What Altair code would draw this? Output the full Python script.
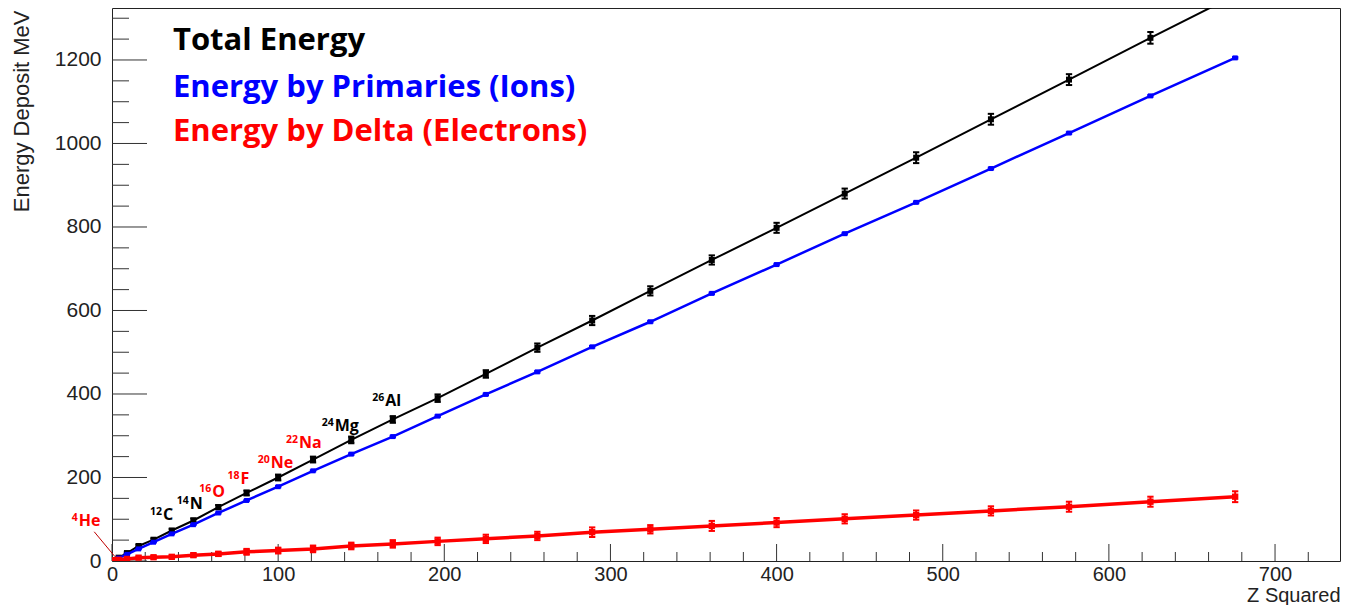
import altair as alt
import pandas as pd

# ---------------- data ----------------
z_squared = [1, 4, 9, 16, 25, 36, 49, 64, 81, 100, 121, 144, 169, 196, 225,
             256, 289, 324, 361, 400, 441, 484, 529, 576, 625, 676]

total_energy = [2, 8, 19, 36, 51, 73, 97, 129, 163, 200, 243, 290, 339, 390, 448,
                511, 576, 647, 721, 798, 880, 966, 1058, 1153, 1253, 1355]
total_err = [1, 2, 2, 3, 3, 4, 5, 5, 6, 7, 7, 8, 8, 9, 9,
             10, 11, 11, 11, 12, 12, 13, 13, 13, 14, 14]

primary_energy = [2, 7, 16, 29, 45, 65, 87, 115, 145, 178, 216, 256, 298, 347, 399,
                  453, 513, 573, 641, 710, 784, 859, 940, 1025, 1114, 1205]
primary_err = [0.5, 0.5, 1, 1, 1, 1, 1, 1.5, 1.5, 1.5, 1.5, 2, 2, 2, 2,
               2, 2, 2, 2, 2, 2, 2, 2, 2, 2, 2]

delta_energy = [2, 3, 5, 8, 9, 10, 14, 17, 22, 25, 29, 36, 41, 47, 53,
                60, 69, 76, 84, 92, 101, 110, 120, 130, 142, 154]
delta_err = [0.5, 1, 2, 2.5, 3, 3.5, 4, 5, 7, 7, 8, 8, 9, 9, 10,
             10, 11.5, 10, 12, 11, 11, 11, 11, 12, 12, 13]

legend_labels = ["Total Energy", "Energy by Primaries (Ions)", "Energy by Delta (Electrons)"]
legend_colors = ["#000000", "#0000ff", "#ff0000"]
legend_x = [36.7, 36.7, 36.7]
legend_y = [1224, 1111, 1007]

iso_mass = ["4", "12", "14", "16", "18", "20", "22", "24", "26"]
iso_symbol = ["He", "C", "N", "O", "F", "Ne", "Na", "Mg", "Al"]
iso_color = ["#ff0000", "#000000", "#000000", "#ff0000", "#ff0000",
             "#ff0000", "#ff0000", "#000000", "#000000"]
iso_x = [-20.6, 30.1, 46.2, 59.8, 76.8, 94.9, 112.0, 133.4, 163.9]
iso_y = [84.6, 98, 124.6, 152.5, 184.4, 222, 270, 311.4, 371]

pointer_x = [-10.7]
pointer_y = [70]
pointer_x2 = [1.8]
pointer_y2 = [10.3]

x_major = [0, 100, 200, 300, 400, 500, 600, 700]
x_minor = [v for v in range(20, 741, 20) if v % 100 != 0]
y_major = [0, 200, 400, 600, 800, 1000, 1200]
y_minor = [v for v in range(50, 1301, 50) if v % 200 != 0]

# ---------------- layout ----------------
W, H = 1228, 553
X_MAX, Y_MAX = 739.1, 1324.5
AXIS_FONT = "Liberation Sans"
TEXT_FONT = "Open Sans"

xs = alt.Scale(domain=[0, X_MAX], nice=False, zero=False)
ys = alt.Scale(domain=[0, Y_MAX], nice=False, zero=False)

x_axis = alt.Axis(values=x_major, format="d", ticks=False, domain=False, grid=False,
                  labelFont=AXIS_FONT, labelFontSize=20, labelColor="#222",
                  labelPadding=3, labelFlush=False, labelOverlap=False,
                  title="Z Squared", titleFont=AXIS_FONT, titleFontSize=20,
                  titleFontWeight="normal", titleColor="#222",
                  titleAnchor="end", titleAlign="right", titleBaseline="alphabetic",
                  titleX=W, titleY=40.5)
y_axis = alt.Axis(values=y_major, format="d", ticks=False, domain=False, grid=False,
                  labelFont=AXIS_FONT, labelFontSize=21, labelColor="#222",
                  labelPadding=11, labelFlush=False, labelOverlap=False,
                  title="Energy Deposit MeV", titleFont=AXIS_FONT, titleFontSize=22,
                  titleFontWeight="normal", titleColor="#222", titleAngle=270,
                  titleAnchor="end", titleAlign="right", titleBaseline="alphabetic",
                  titleX=-84, titleY=2)

X = lambda f: alt.X(f, type="quantitative", scale=xs, axis=x_axis)
Y = lambda f: alt.Y(f, type="quantitative", scale=ys, axis=y_axis)

layers = []

# tick marks drawn inward (ROOT style)
for vals, ln in [(y_major, 35), (y_minor, 17)]:
    layers.append(alt.Chart(pd.DataFrame({"v": vals})).mark_rule(color="#333", strokeWidth=1).encode(
        y=Y("v"), x=alt.value(0), x2=alt.value(ln)))
for vals, ln in [(x_major, 17), (x_minor, 9)]:
    layers.append(alt.Chart(pd.DataFrame({"v": vals})).mark_rule(color="#333", strokeWidth=1).encode(
        x=X("v"), y=alt.value(H), y2=alt.value(H - ln)))


def series(values, errs, color, lw, msize):
    df = pd.DataFrame({"z2": z_squared, "e": values,
                       "lo": [v - e for v, e in zip(values, errs)],
                       "hi": [v + e for v, e in zip(values, errs)]})
    base = alt.Chart(df)
    out = [
        base.mark_line(color=color, strokeWidth=lw, clip=True).encode(x=X("z2"), y=Y("e")),
        base.mark_rule(color=color, strokeWidth=2, clip=True).encode(x=X("z2"), y=Y("lo"), y2="hi"),
        base.mark_point(shape="M-1,0L1,0", color=color, strokeWidth=2, size=40, filled=False,
                        opacity=1, clip=True).encode(x=X("z2"), y=Y("lo")),
        base.mark_point(shape="M-1,0L1,0", color=color, strokeWidth=2, size=40, filled=False,
                        opacity=1, clip=True).encode(x=X("z2"), y=Y("hi")),
        base.mark_square(color=color, size=msize, opacity=1, clip=True).encode(x=X("z2"), y=Y("e")),
    ]
    return out


layers += series(total_energy, total_err, "#000000", 2, 36)
layers += series(primary_energy, primary_err, "#0000ff", 2.5, 25)
layers += series(delta_energy, delta_err, "#ff0000", 3.5, 40)

# legend-like texts
leg = pd.DataFrame({"x": legend_x, "y": legend_y, "t": legend_labels, "c": legend_colors})
layers.append(alt.Chart(leg).mark_text(align="left", baseline="alphabetic", font=TEXT_FONT,
                                       fontSize=31, fontWeight="bold").encode(
    x=X("x"), y=Y("y"), text="t:N", color=alt.Color("c:N", scale=None)))

# isotope annotations
iso = pd.DataFrame({"x": iso_x, "y": iso_y, "m": iso_mass, "s": iso_symbol, "c": iso_color})
layers.append(alt.Chart(iso).mark_text(align="left", baseline="alphabetic", font=TEXT_FONT,
                                       fontSize=16, fontWeight="bold", dx=1).encode(
    x=X("x"), y=Y("y"), text="s:N", color=alt.Color("c:N", scale=None)))
layers.append(alt.Chart(iso).mark_text(align="right", baseline="alphabetic", font=TEXT_FONT,
                                       fontSize=10.5, fontWeight="bold", dy=-5).encode(
    x=X("x"), y=Y("y"), text="m:N", color=alt.Color("c:N", scale=None)))

# pointer line from 4He label to origin
ptr = pd.DataFrame({"x": pointer_x, "y": pointer_y, "x2": pointer_x2, "y2": pointer_y2})
layers.append(alt.Chart(ptr).mark_rule(color="#c00000", strokeWidth=1).encode(
    x=X("x"), y=Y("y"), x2="x2", y2="y2"))

chart = alt.layer(*layers).properties(
    width=W, height=H,
    autosize=alt.AutoSizeParams(type="none"),
    padding={"left": 104, "top": 0, "right": 1, "bottom": 44},
    background="white",
).configure_view(stroke="#222", strokeWidth=1)

chart.save("out.html", embed_options={"renderer": "svg", "actions": False})
